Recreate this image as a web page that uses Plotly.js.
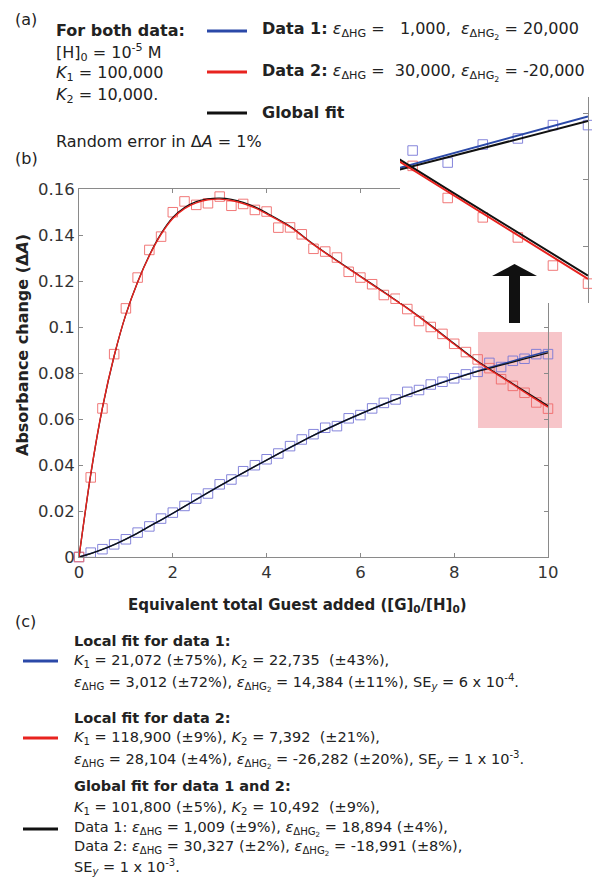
<!DOCTYPE html>
<html>
<head>
<meta charset="utf-8">
<script src="https://cdn.plot.ly/plotly-3.0.1.min.js"></script>
<style>html,body{margin:0;padding:0;background:#fff;}</style>
</head>
<body>
<div id="chart" style="width:592px;height:889px;"></div>
<script>
// ---- data ----
var guestEq = [0,0.25,0.5,0.75,1,1.25,1.5,1.75,2,2.25,2.5,2.75,3,3.25,3.5,3.75,4,4.25,4.5,4.75,5,5.25,5.5,5.75,6,6.25,6.5,6.75,7,7.25,7.5,7.75,8,8.25,8.5,8.75,9,9.25,9.5,9.75,10];
var data1 = [0,0.0019,0.0034,0.0055,0.0077,0.0106,0.0133,0.0167,0.0193,0.0222,0.0254,0.0276,0.0316,0.0337,0.0373,0.0399,0.0425,0.0450,0.0482,0.0511,0.0534,0.0562,0.0569,0.0603,0.0617,0.0646,0.0670,0.0685,0.0718,0.0726,0.0750,0.0762,0.0777,0.0794,0.0805,0.0844,0.0826,0.0853,0.0862,0.0882,0.0882];
var data2 = [0,0.0346,0.0646,0.0882,0.1081,0.1215,0.1335,0.1393,0.1499,0.1546,0.1531,0.1538,0.1567,0.1527,0.1535,0.1509,0.1502,0.1432,0.1433,0.1403,0.1340,0.1328,0.1302,0.1240,0.1215,0.1186,0.1139,0.1123,0.1078,0.1026,0.1000,0.0970,0.0927,0.0891,0.0859,0.0821,0.0773,0.0744,0.0714,0.0672,0.0645];

var fitX = [0,0.25,0.5,0.75,1,1.25,1.5,1.75,2,2.25,2.5,2.75,3,3.25,3.5,3.75,4,4.5,5,5.5,6,6.5,7,7.5,8,8.5,9,9.5,10];
var localFit1  = [0,0.0015,0.0033,0.0054,0.0078,0.0104,0.0133,0.0161,0.0190,0.0220,0.0250,0.0280,0.0309,0.0338,0.0366,0.0394,0.0421,0.0476,0.0529,0.0577,0.0622,0.0665,0.0705,0.0742,0.0777,0.0809,0.0838,0.0867,0.0895];
var globalFit1 = [0,0.0015,0.0033,0.0054,0.0078,0.0104,0.0133,0.0161,0.0190,0.0220,0.0250,0.0280,0.0309,0.0338,0.0366,0.0394,0.0421,0.0476,0.0529,0.0577,0.0622,0.0665,0.0704,0.0741,0.0775,0.0807,0.0834,0.0861,0.0888];
var localFit2  = [0,0.0360,0.0650,0.0875,0.1055,0.1195,0.1310,0.1403,0.1472,0.1515,0.1540,0.1553,0.1556,0.1550,0.1537,0.1518,0.1492,0.1435,0.1358,0.1287,0.1219,0.1150,0.1081,0.1005,0.0925,0.0848,0.0783,0.0717,0.0652];
var globalFit2 = [0,0.0358,0.0648,0.0874,0.1055,0.1196,0.1312,0.1406,0.1476,0.1519,0.1545,0.1557,0.1560,0.1555,0.1542,0.1522,0.1496,0.1438,0.1360,0.1289,0.1221,0.1152,0.1083,0.1008,0.0928,0.0851,0.0786,0.0721,0.0657];

var xTicks = [0,2,4,6,8,10];
var xTickText = ['0','2','4','6','8','10'];
var yTicks = [0,0.02,0.04,0.06,0.08,0.1,0.12,0.14,0.16];
var yTickText = ['0','0.02','0.04','0.06','0.08','0.1','0.12','0.14','0.16'];
var insetTicks = [0.07,0.08,0.09];

// ---- styling ----
var W = 592, H = 889;
function P(px){ return px / W; }
function Q(py){ return 1 - py / H; }
var BLUE = '#2b49a8', RED = '#e8231f', BLACK = '#111111';
var BLUE_M = 'rgba(120,120,215,0.9)', RED_M = 'rgba(240,105,105,0.9)';
var FONT = 'DejaVu Sans';
var TXT = '#222222';

var insetMin = 8.66;
function filt(xs, ys){
  var ox = [], oy = [];
  for (var i = 0; i < xs.length; i++) { if (xs[i] >= 8.7) { ox.push(xs[i]); oy.push(ys[i]); } }
  return {x: ox, y: oy};
}
var in1 = filt(guestEq, data1), in2 = filt(guestEq, data2);

function markers(x, y, col, xa, ya){
  return {x: x, y: y, xaxis: xa, yaxis: ya, type: 'scatter', mode: 'markers', cliponaxis: false,
    marker: {symbol: 'square-open', size: 9.5, color: col, line: {width: 1, color: col}}, hoverinfo: 'skip'};
}
function line(x, y, col, w, xa, ya, shape){
  return {x: x, y: y, xaxis: xa, yaxis: ya, type: 'scatter', mode: 'lines',
    line: {color: col, width: w, shape: shape, smoothing: 0.8}, hoverinfo: 'skip'};
}

var traces = [
  markers(guestEq, data1, BLUE_M, 'x', 'y'),
  markers(guestEq, data2, RED_M, 'x', 'y'),
  line(fitX, localFit1, BLUE, 1.5, 'x', 'y', 'spline'),
  line(fitX, globalFit1, BLACK, 1.3, 'x', 'y', 'spline'),
  line(fitX, globalFit2, BLACK, 1.3, 'x', 'y', 'spline'),
  line(fitX, localFit2, RED, 1.4, 'x', 'y', 'spline'),
  markers(in1.x, in1.y, BLUE_M, 'x2', 'y2'),
  markers(in2.x, in2.y, RED_M, 'x2', 'y2'),
  line(fitX, localFit1, BLUE, 2, 'x2', 'y2', 'linear'),
  line(fitX, globalFit1, BLACK, 2, 'x2', 'y2', 'linear'),
  line(fitX, globalFit2, BLACK, 2, 'x2', 'y2', 'linear'),
  line(fitX, localFit2, RED, 2, 'x2', 'y2', 'linear')
];

var NB = '\u00a0';
var epsHG = '<i>ε</i><sub>ΔHG</sub>';
var epsHG2 = '<i>ε</i><sub>ΔHG<sub>2</sub></sub>';

function ann(text, px, py, size, extra){
  var a = {text: text, x: P(px), y: Q(py), xref: 'paper', yref: 'paper', xanchor: 'left', yanchor: 'middle',
    showarrow: false, font: {family: FONT, size: size, color: TXT}, borderpad: 0};
  if (extra) for (var k in extra) a[k] = extra[k];
  return a;
}
var A = 16, C = 14.5;
var annotations = [
  ann('(a)', 14, 20, A),
  ann('<b>For both data:</b>', 55, 31, A),
  ann('[H]<sub>0</sub> = 10<sup>-5</sup> M', 55, 53, A),
  ann('<i>K</i><sub>1</sub> = 100,000', 55, 74, A),
  ann('<i>K</i><sub>2</sub> = 10,000.', 55, 95, A),
  ann('Random error in Δ<i>A</i> = 1%', 55, 141, A),
  ann('<b>Data 1:</b> ' + epsHG + ' =' + NB + NB + NB + '1,000,' + NB + NB + epsHG2 + ' = 20,000', 261, 31, A),
  ann('<b>Data 2:</b> ' + epsHG + ' =' + NB + NB + '30,000, ' + epsHG2 + ' = -20,000', 261, 72, A),
  ann('<b>Global fit</b>', 261, 113, A),
  ann('(b)', 14, 158, A),
  ann('(c)', 14, 621, A),
  ann('<b>Local fit for data 1:</b>', 73, 641, C),
  ann('<i>K</i><sub>1</sub> = 21,072 (±75%), <i>K</i><sub>2</sub> = 22,735' + NB + NB + '(±43%),', 73, 661, C),
  ann(epsHG + ' = 3,012 (±72%), ' + epsHG2 + ' = 14,384 (±11%), SE<sub><i>y</i></sub> = 6 x 10<sup>-4</sup>.', 73, 683, C),
  ann('<b>Local fit for data 2:</b>', 73, 718, C),
  ann('<i>K</i><sub>1</sub> = 118,900 (±9%), <i>K</i><sub>2</sub> = 7,392' + NB + NB + '(±21%),', 73, 738, C),
  ann(epsHG + ' = 28,104 (±4%), ' + epsHG2 + ' = -26,282 (±20%), SE<sub><i>y</i></sub> = 1 x 10<sup>-3</sup>.', 73, 760, C),
  ann('<b>Global fit for data 1 and 2:</b>', 73, 786, C),
  ann('<i>K</i><sub>1</sub> = 101,800 (±5%), <i>K</i><sub>2</sub> = 10,492' + NB + NB + '(±9%),', 73, 808, C),
  ann('Data 1: ' + epsHG + ' = 1,009 (±9%), ' + epsHG2 + ' = 18,894 (±4%),', 73, 829, C),
  ann('Data 2: ' + epsHG + ' = 30,327 (±2%), ' + epsHG2 + ' = -18,991 (±8%),', 73, 848, C),
  ann('SE<sub><i>y</i></sub> = 1 x 10<sup>-3</sup>.', 73, 867, C),
  ann('<b>Equivalent total Guest added ([G]<sub>0</sub>/[H]<sub>0</sub>)</b>', 297, 605, 15, {xanchor: 'center'}),
  ann('<b>Absorbance change (Δ<i>A</i>)</b>', 22, 345, 16, {xanchor: 'center', textangle: -90})
];

function hline(px0, px1, py, col){
  return {type: 'line', xref: 'paper', yref: 'paper', x0: P(px0), x1: P(px1), y0: Q(py), y1: Q(py),
    line: {color: col, width: 3}};
}
var arrowPath = 'M' + P(509) + ',' + Q(323) + ' L' + P(509) + ',' + Q(276) + ' L' + P(492) + ',' + Q(276) +
  ' L' + P(514.5) + ',' + Q(264) + ' L' + P(537) + ',' + Q(276) + ' L' + P(520) + ',' + Q(276) +
  ' L' + P(520) + ',' + Q(323) + ' Z';
var shapes = [
  {type: 'rect', xref: 'paper', yref: 'paper', x0: P(478), x1: P(562), y0: Q(428), y1: Q(332),
    fillcolor: 'rgba(235,110,120,0.4)', line: {width: 0}, layer: 'below'},
  hline(207, 247, 31, BLUE), hline(207, 247, 72, RED), hline(207, 247, 113, BLACK),
  hline(23, 58, 661, BLUE), hline(23, 58, 738, RED), hline(23, 58, 829, BLACK),
  {type: 'path', xref: 'paper', yref: 'paper', path: arrowPath, fillcolor: '#111', line: {width: 0}, layer: 'above'}
];

var axisCommon = {showline: true, linecolor: '#8a8a8a', linewidth: 1, mirror: 'ticks', ticks: 'inside',
  ticklen: 4, tickcolor: '#8a8a8a', showgrid: false, zeroline: false,
  tickfont: {family: FONT, size: 16.5, color: '#333'}};

var layout = {
  width: W, height: H, margin: {l: 0, r: 0, t: 0, b: 0},
  paper_bgcolor: '#ffffff', plot_bgcolor: '#ffffff', showlegend: false,
  xaxis: Object.assign({}, axisCommon, {domain: [P(79), P(548)], range: [0, 10], tickmode: 'array',
    tickvals: xTicks, ticktext: xTickText, anchor: 'y'}),
  yaxis: Object.assign({}, axisCommon, {domain: [Q(557), Q(189)], range: [0, 0.16], tickmode: 'array',
    tickvals: yTicks, ticktext: yTickText, anchor: 'x'}),
  xaxis2: {domain: [P(400), P(588)], range: [insetMin, 10], visible: false, anchor: 'y2', fixedrange: true},
  yaxis2: {domain: [Q(303), Q(97)], range: [0.0616, 0.0924], anchor: 'x2', side: 'right', showline: true,
    linecolor: '#8a8a8a', linewidth: 1, ticks: 'inside', ticklen: 5, tickcolor: '#8a8a8a', tickmode: 'array',
    tickvals: insetTicks, showticklabels: false, showgrid: false, zeroline: false},
  annotations: annotations,
  shapes: shapes
};

Plotly.newPlot('chart', traces, layout, {staticPlot: true, displayModeBar: false});
</script>
</body>
</html>
